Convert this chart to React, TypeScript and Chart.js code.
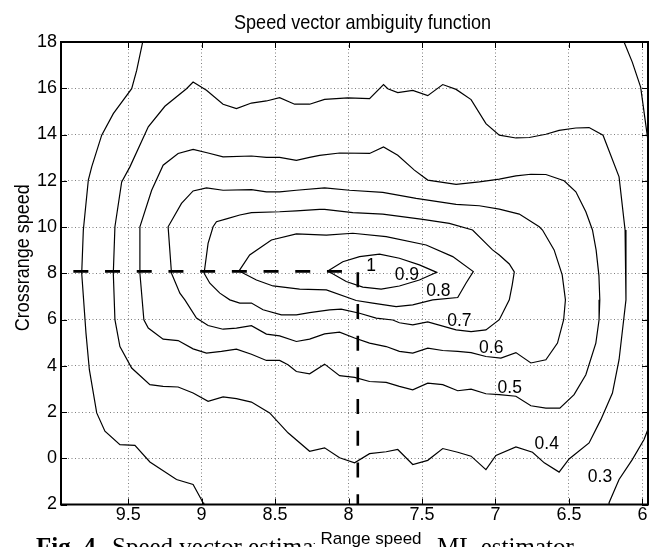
import React, { useEffect, useRef } from 'react';
import { Chart, registerables } from 'chart.js';

Chart.register(...registerables);

// ---- axes ----
const xRange = [5.962, 9.957];
const yRange = [-2, 18];
const xTicks = [6, 6.5, 7, 7.5, 8, 8.5, 9, 9.5];
const xTickLabels = ['6', '6.5', '7', '7.5', '8', '8.5', '9', '9.5'];
const yTicks = [-2, 0, 2, 4, 6, 8, 10, 12, 14, 16, 18];
// the reference shows the lowest label without its minus sign
const yTickLabels = ['2', '0', '2', '4', '6', '8', '10', '12', '14', '16', '18'];

// ---- texts ----
const titleText = 'Speed vector ambiguity function';
const xTitle = 'Range speed';
const yTitle = 'Crossrange speed';
const captionBold = 'Fig. 4.';
const captionLeft = 'Speed vector estimation';
const captionRight = 'ML estimator';

// ---- contour lines: [range speed, crossrange speed] ----
const level03Left = [
  [9.401, 18.0], [9.442, 16.77], [9.476, 15.98], [9.601, 14.9], [9.68, 13.97], [9.748, 12.6],
  [9.771, 12.03], [9.805, 9.87], [9.816, 8.0], [9.787, 5.41], [9.764, 3.83], [9.714, 1.96],
  [9.658, 1.17], [9.556, 0.59], [9.454, 0.56], [9.352, -0.16], [9.171, -0.92], [9.058, -1.13],
  [8.99, -1.92], [8.985, -2.0],
];
const level03TopRight = [[6.125, 18.0], [6.069, 17.13], [6.012, 16.05], [5.969, 14.05], [5.955, 13.4]];
const level03BottomRight = [[6.225, -2.0], [6.227, -1.92], [6.159, -0.92], [6.069, -0.06], [5.989, 0.81], [5.955, 1.37]];

const level04 = [
  [9.601, 8.0], [9.59, 10.01], [9.544, 11.95], [9.488, 12.6], [9.363, 14.33], [9.25, 15.22],
  [9.103, 15.98], [9.058, 16.27], [8.967, 15.91], [8.854, 15.31], [8.763, 15.12], [8.661, 15.36],
  [8.559, 15.45], [8.469, 15.59], [8.367, 15.31], [8.265, 15.31], [8.163, 15.52], [8.005, 15.58],
  [7.857, 15.55], [7.762, 16.16], [7.733, 15.98], [7.665, 15.81], [7.563, 15.91], [7.461, 15.68],
  [7.359, 16.16], [7.268, 15.95], [7.166, 15.51], [7.065, 14.47], [6.974, 13.97], [6.861, 13.85],
  [6.77, 13.87], [6.657, 14.01], [6.567, 14.18], [6.453, 14.28], [6.363, 14.3], [6.268, 13.97],
  [6.159, 12.17], [6.118, 9.87], [6.112, 6.85], [6.125, 6.13], [6.159, 4.26], [6.204, 2.82],
  [6.283, 1.67], [6.363, 0.66], [6.499, -0.03], [6.567, -0.6], [6.668, -0.2], [6.748, 0.26],
  [6.861, 0.49], [6.997, 0.12], [7.065, -0.49], [7.166, 0.09], [7.257, 0.26], [7.359, 0.42],
  [7.461, -0.09], [7.563, -0.27], [7.665, 0.38], [7.744, 0.28], [7.857, 0.2], [7.959, -0.2],
  [8.061, 0.02], [8.163, 0.45], [8.265, 0.3], [8.412, 1.1], [8.537, 1.96], [8.661, 2.43],
  [8.763, 2.58], [8.854, 2.65], [8.956, 2.46], [9.058, 2.82], [9.16, 3.08], [9.262, 3.11],
  [9.352, 3.18], [9.476, 3.9], [9.556, 4.83], [9.59, 5.99],
];
const level05 = [
  [9.42, 8.0], [9.42, 10.01], [9.34, 11.59], [9.262, 12.67], [9.16, 13.18], [9.058, 13.36],
  [8.956, 13.2], [8.854, 13.03], [8.661, 13.07], [8.559, 13.01], [8.469, 13.01], [8.355, 12.88],
  [8.265, 13.01], [8.197, 13.1], [8.061, 13.2], [7.857, 13.18], [7.762, 13.46], [7.665, 13.1],
  [7.552, 12.46], [7.461, 12.03], [7.268, 11.84], [7.11, 11.95], [6.974, 12.07], [6.861, 12.21],
  [6.759, 12.28], [6.657, 12.27], [6.533, 12.0], [6.453, 11.52], [6.385, 10.66], [6.34, 9.87],
  [6.315, 9.0], [6.296, 7.9], [6.29, 6.85], [6.295, 5.99], [6.317, 4.98], [6.385, 3.61],
  [6.465, 2.75], [6.562, 2.17], [6.657, 2.17], [6.759, 2.27], [6.861, 2.68], [6.974, 2.75],
  [7.065, 2.79], [7.166, 2.99], [7.257, 2.92], [7.359, 3.18], [7.461, 3.25], [7.563, 2.96],
  [7.654, 3.11], [7.744, 3.28], [7.857, 3.32], [7.959, 3.5], [8.061, 3.57], [8.163, 4.07],
  [8.265, 3.65], [8.355, 3.75], [8.412, 4.04], [8.469, 4.23], [8.559, 4.23], [8.661, 4.5],
  [8.763, 4.72], [8.865, 4.62], [8.967, 4.55], [9.058, 4.73], [9.16, 5.09], [9.262, 5.15],
  [9.363, 5.63], [9.393, 5.99],
];
const level06 = [
  [9.205, 8.0], [9.228, 10.01], [9.137, 11.02], [9.058, 11.56], [8.967, 11.69], [8.854, 11.59],
  [8.661, 11.62], [8.559, 11.52], [8.469, 11.52], [8.355, 11.59], [8.163, 11.69], [7.993, 11.59],
  [7.767, 11.5], [7.54, 11.24], [7.268, 10.98], [7.11, 10.92], [6.974, 10.77], [6.838, 10.56],
  [6.702, 10.01], [6.68, 9.87], [6.601, 9.01], [6.546, 7.93], [6.524, 6.85], [6.536, 5.99],
  [6.578, 4.98], [6.657, 4.26], [6.759, 4.12], [6.861, 4.57], [6.963, 4.33], [7.065, 4.4],
  [7.166, 4.57], [7.257, 4.62], [7.359, 4.66], [7.461, 4.76], [7.563, 4.55], [7.654, 4.62],
  [7.744, 4.83], [7.857, 4.98], [7.959, 5.2], [8.061, 5.45], [8.163, 5.38], [8.265, 5.15],
  [8.355, 5.05], [8.469, 5.29], [8.559, 5.37], [8.661, 5.73], [8.763, 5.63], [8.854, 5.58],
  [8.956, 5.74], [9.035, 6.06], [9.114, 6.85], [9.148, 7.14],
];
const level07 = [
  [8.983, 8.0], [8.956, 9.29], [8.922, 10.01], [8.899, 10.23], [8.831, 10.35], [8.74, 10.52],
  [8.661, 10.62], [8.469, 10.66], [8.355, 10.7], [8.197, 10.76], [8.163, 10.76], [7.971, 10.62],
  [7.767, 10.56], [7.495, 10.33], [7.314, 10.16], [7.156, 9.87], [7.02, 9.01], [6.974, 8.79],
  [6.906, 8.4], [6.872, 8.06], [6.886, 7.5], [6.906, 6.85], [6.974, 5.99], [7.065, 5.55],
  [7.166, 5.48], [7.268, 5.55], [7.461, 5.9], [7.563, 5.77], [7.654, 5.86], [7.699, 5.98],
  [7.812, 6.06], [7.925, 6.27], [8.05, 6.45], [8.129, 6.42], [8.265, 6.3], [8.355, 6.2],
  [8.457, 6.2], [8.582, 6.42], [8.661, 6.71], [8.74, 6.71], [8.808, 6.85], [8.876, 7.14],
  [8.944, 7.57],
];
const level08 = [
  [8.745, 8.1], [8.673, 8.79], [8.525, 9.44], [8.355, 9.7], [8.151, 9.65], [7.971, 9.73],
  [7.744, 9.58], [7.472, 9.22], [7.291, 8.72], [7.151, 8.07], [7.201, 7.57], [7.257, 6.95],
  [7.427, 6.85], [7.563, 6.63], [7.676, 6.56], [7.835, 6.71], [7.948, 6.82], [8.151, 7.28],
  [8.333, 7.31], [8.514, 7.45], [8.627, 7.71],
];
const level09 = [
  [8.141, 8.1], [8.039, 8.5], [7.925, 8.72], [7.789, 8.83], [7.654, 8.65], [7.518, 8.36],
  [7.4, 8.04], [7.518, 7.71], [7.654, 7.45], [7.778, 7.31], [7.903, 7.4], [8.016, 7.64],
];

// ---- contour labels ----
const labelText = ['1', '0.9', '0.8', '0.7', '0.6', '0.5', '0.4', '0.3'];
const labelX = [7.846, 7.603, 7.389, 7.246, 7.029, 6.903, 6.651, 6.289];
const labelY = [8.32, 7.93, 7.24, 5.91, 4.76, 3.04, 0.63, -0.81];

// ---- estimate marker (dashed) ----
const estimateX = 7.937;
const estimateY = 8.08;
const dashStartX = 9.873;

const SANS = '"Liberation Sans", Arial, Helvetica, sans-serif';
const SERIF = '"Liberation Serif", "Times New Roman", serif';

const toPts = (arr: number[][]) => arr.map(([x, y]) => ({ x, y }));
const closed = (arr: number[][]) => [...arr, arr[0]];

const overlay = {
  id: 'overlay',
  afterDraw(chart: any) {
    const { ctx, chartArea: a, scales } = chart;
    const xs = scales.x;
    const ys = scales.y;
    ctx.save();
    // inward tick marks
    ctx.strokeStyle = '#000';
    ctx.lineWidth = 1;
    ctx.beginPath();
    xTicks.forEach((v) => {
      const p = Math.round(xs.getPixelForValue(v)) + 0.5;
      ctx.moveTo(p, a.bottom);
      ctx.lineTo(p, a.bottom - 6);
      ctx.moveTo(p, a.top);
      ctx.lineTo(p, a.top + 6);
    });
    yTicks.forEach((v) => {
      const p = Math.round(ys.getPixelForValue(v)) + 0.5;
      ctx.moveTo(a.left, p);
      ctx.lineTo(a.left + 6, p);
      ctx.moveTo(a.right, p);
      ctx.lineTo(a.right - 6, p);
    });
    ctx.stroke();
    // frame
    ctx.lineWidth = 2;
    ctx.strokeRect(a.left, a.top, a.right - a.left, a.bottom - a.top);

    // contour labels
    ctx.fillStyle = '#000';
    ctx.font = `17.5px ${SANS}`;
    ctx.textAlign = 'center';
    ctx.textBaseline = 'middle';
    labelText.forEach((t, i) => {
      ctx.fillText(t, xs.getPixelForValue(labelX[i]), ys.getPixelForValue(labelY[i]));
    });

    // title (condensed, as in the reference)
    ctx.textBaseline = 'alphabetic';
    ctx.save();
    ctx.translate((a.left + a.right) / 2 + 8, 28.5);
    ctx.scale(0.86, 1);
    ctx.font = `21px ${SANS}`;
    ctx.fillText(titleText, 0, 0);
    ctx.restore();

    // y axis title
    ctx.save();
    ctx.translate(28.5, (a.top + a.bottom) / 2 - 15.5);
    ctx.rotate(-Math.PI / 2);
    ctx.scale(0.9, 1);
    ctx.font = `20px ${SANS}`;
    ctx.fillText(yTitle, 0, 0);
    ctx.restore();

    // caption below the figure (partly hidden by the figure's white box)
    ctx.textAlign = 'left';
    ctx.font = `bold 25px ${SERIF}`;
    ctx.fillText(captionBold, 36, 554.5);
    ctx.font = `25px ${SERIF}`;
    ctx.fillText(captionLeft, 112, 554.5);
    ctx.fillText(captionRight, 437, 554.5);
    ctx.fillStyle = '#fff';
    ctx.fillRect(315, 522, 119, 30);

    // x axis title
    ctx.fillStyle = '#000';
    ctx.textAlign = 'center';
    ctx.font = `17px ${SANS}`;
    ctx.fillText(xTitle, 371, 543.5);
    ctx.restore();
  },
};

export default function App() {
  const ref = useRef<HTMLCanvasElement | null>(null);

  useEffect(() => {
    if (!ref.current) return;
    const lineStyle = {
      showLine: true,
      borderColor: '#000',
      borderWidth: 1.2,
      pointRadius: 0,
      tension: 0,
      fill: false,
    };
    const contours = [
      level03Left,
      level03TopRight,
      level03BottomRight,
      closed(level04),
      closed(level05),
      closed(level06),
      closed(level07),
      closed(level08),
      closed(level09),
    ];
    const datasets: any[] = contours.map((c) => ({ ...lineStyle, data: toPts(c) }));
    datasets.push({
      ...lineStyle,
      borderWidth: 2.6,
      borderDash: [15, 16.7],
      data: toPts([
        [dashStartX, estimateY],
        [estimateX, estimateY],
        [estimateX, yRange[0]],
      ]),
    });

    const chart = new Chart(ref.current, {
      type: 'scatter',
      data: { datasets },
      options: {
        animation: false,
        responsive: false,
        devicePixelRatio: 1,
        events: [],
        layout: { padding: { left: 0, right: 1, top: 42, bottom: 0 } },
        plugins: { legend: { display: false }, tooltip: { enabled: false }, title: { display: false } },
        scales: {
          x: {
            type: 'linear',
            reverse: true,
            min: xRange[0],
            max: xRange[1],
            afterBuildTicks: (s: any) => {
              s.ticks = xTicks.map((v) => ({ value: v }));
            },
            afterFit: (s: any) => {
              s.height = 42.5;
            },
            ticks: {
              autoSkip: false,
              maxRotation: 0,
              padding: 0,
              color: '#000',
              font: { family: SANS, size: 18 },
              callback: (v: any) => xTickLabels[xTicks.indexOf(Number(v))] ?? '',
            },
            grid: { color: 'rgba(0,0,0,0.5)', lineWidth: 1, drawTicks: false },
            border: { display: false, dash: [1, 2.5] },
          },
          y: {
            type: 'linear',
            min: yRange[0],
            max: yRange[1],
            afterBuildTicks: (s: any) => {
              s.ticks = yTicks.map((v) => ({ value: v }));
            },
            afterFit: (s: any) => {
              s.width = 61;
            },
            ticks: {
              autoSkip: false,
              padding: 4,
              color: '#000',
              font: { family: SANS, size: 18 },
              callback: (v: any) => yTickLabels[yTicks.indexOf(Number(v))] ?? '',
            },
            grid: { color: 'rgba(0,0,0,0.5)', lineWidth: 1, drawTicks: false },
            border: { display: false, dash: [1, 2.5] },
          },
        },
      },
      plugins: [overlay],
    });
    return () => chart.destroy();
  }, []);

  return (
    <div style={{ position: 'fixed', left: 0, top: 0, width: 649, height: 547, background: '#fff', overflow: 'hidden' }}>
      <canvas ref={ref} width={649} height={547} style={{ display: 'block' }} />
    </div>
  );
}
